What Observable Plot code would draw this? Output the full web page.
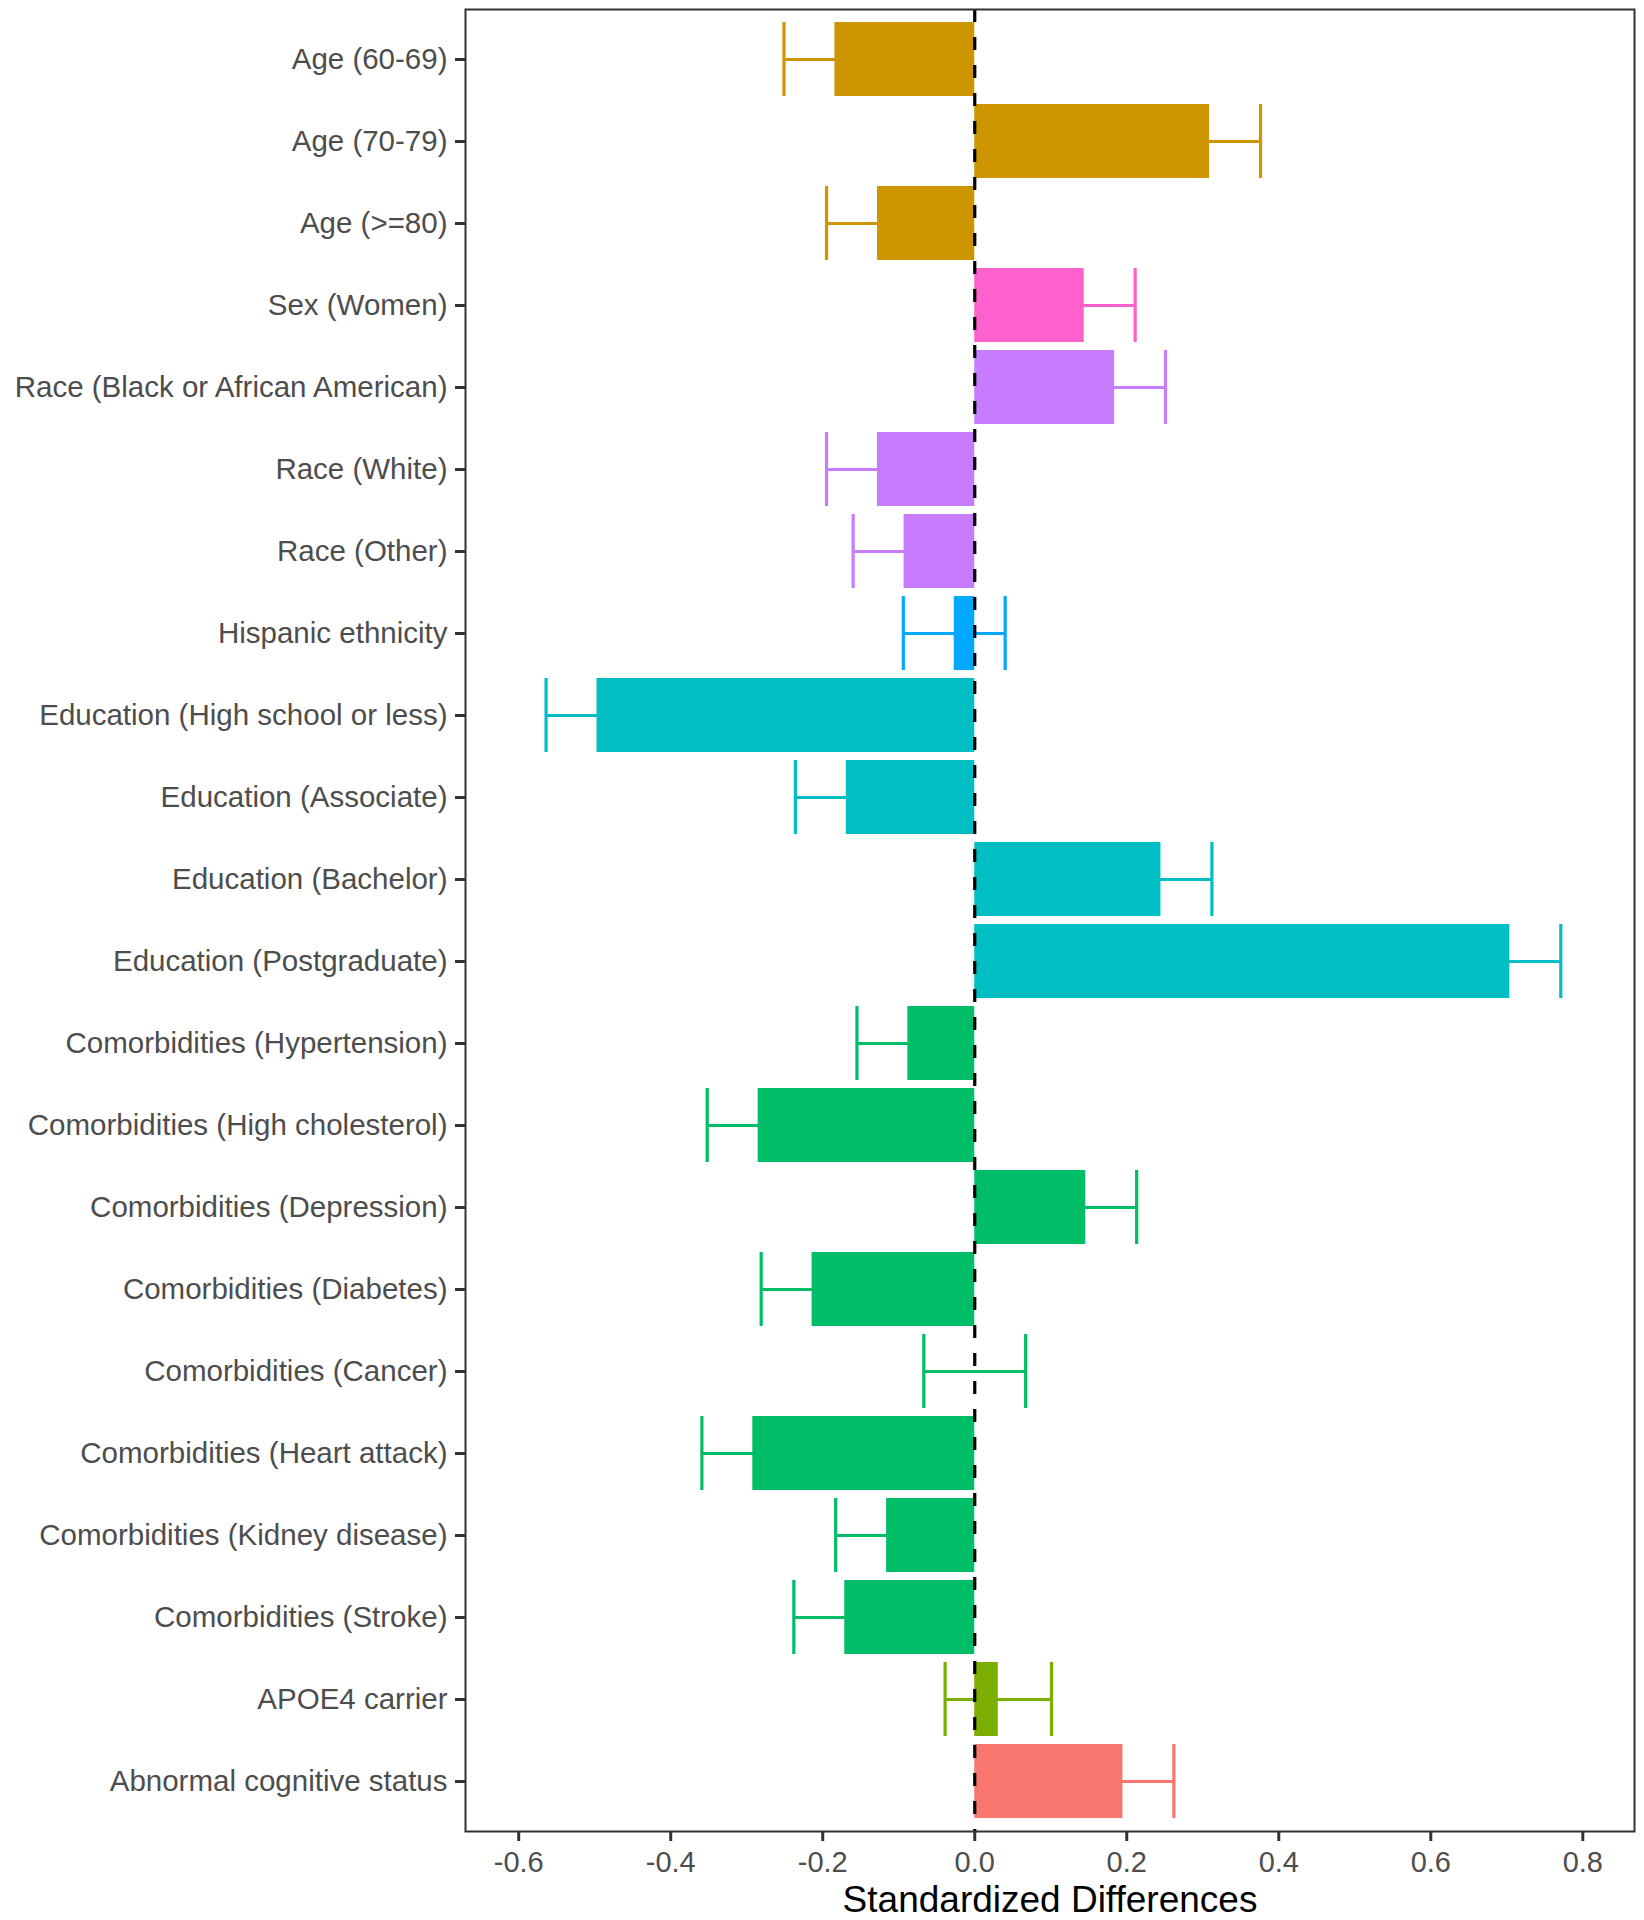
<!DOCTYPE html>
<html>
<head>
<meta charset="utf-8">
<script src="https://cdn.jsdelivr.net/npm/d3@7"></script>
<script src="https://cdn.jsdelivr.net/npm/@observablehq/plot@0.6"></script>
<style>
  html, body { margin: 0; padding: 0; background: #fff; }
  #chart svg { display: block; }
</style>
</head>
<body>
<div id="chart"></div>
<script>
const labels = [
  "Age (60-69)", "Age (70-79)", "Age (>=80)", "Sex (Women)",
  "Race (Black or African American)", "Race (White)", "Race (Other)",
  "Hispanic ethnicity", "Education (High school or less)", "Education (Associate)",
  "Education (Bachelor)", "Education (Postgraduate)", "Comorbidities (Hypertension)",
  "Comorbidities (High cholesterol)", "Comorbidities (Depression)", "Comorbidities (Diabetes)",
  "Comorbidities (Cancer)", "Comorbidities (Heart attack)", "Comorbidities (Kidney disease)",
  "Comorbidities (Stroke)", "APOE4 carrier", "Abnormal cognitive status"
];
const groups = [
  "Age", "Age", "Age", "Sex",
  "Race", "Race", "Race",
  "Hispanic", "Education", "Education",
  "Education", "Education", "Comorbidities",
  "Comorbidities", "Comorbidities", "Comorbidities",
  "Comorbidities", "Comorbidities", "Comorbidities",
  "Comorbidities", "APOE4", "Abnormal"
];
const values = [
  -0.184, 0.309, -0.128, 0.144,
  0.184, -0.128, -0.093,
  -0.027, -0.497, -0.169,
  0.245, 0.704, -0.088,
  -0.285, 0.146, -0.214,
  0.000, -0.292, -0.116,
  -0.171, 0.031, 0.195
];
const lower = [
  -0.251, 0.242, -0.195, 0.077,
  0.117, -0.195, -0.160,
  -0.094, -0.564, -0.236,
  0.178, 0.637, -0.155,
  -0.352, 0.079, -0.281,
  -0.067, -0.359, -0.183,
  -0.238, -0.039, 0.128
];
const upper = [
  -0.117, 0.376, -0.061, 0.211,
  0.251, -0.061, -0.026,
  0.040, -0.430, -0.102,
  0.312, 0.771, -0.021,
  -0.218, 0.213, -0.147,
  0.067, -0.225, -0.049,
  -0.104, 0.101, 0.262
];
const groupDomain = ["Abnormal", "Age", "APOE4", "Comorbidities", "Education", "Hispanic", "Race", "Sex"];
const groupColors = ["#F8766D", "#CD9600", "#7CAE00", "#00BE67", "#00BFC4", "#00A9FF", "#C77CFF", "#FF61CC"];
const xTicks = [-0.6, -0.4, -0.2, 0.0, 0.2, 0.4, 0.6, 0.8];
const xLabel = "Standardized Differences";

const data = labels.map((label, i) => ({
  label, group: groups[i], value: values[i], lo: lower[i], hi: upper[i]
}));

const font = "'Liberation Sans', Arial, sans-serif";

const chart = Plot.plot({
  width: 1644,
  height: 1920,
  marginLeft: 465,
  marginRight: 10,
  marginTop: 9,
  marginBottom: 89,
  style: { fontFamily: font, background: "#fff" },
  x: { domain: [-0.670, 0.868] },
  y: { type: "band", domain: labels, paddingInner: 0.1, paddingOuter: 0.15, align: 0.5 },
  color: { type: "ordinal", domain: groupDomain, range: groupColors },
  marks: [
    Plot.ruleY(data, { y: "label", x1: "lo", x2: "hi", stroke: "group", strokeWidth: 3.2 }),
    Plot.tickX(data, { x: "lo", y: "label", stroke: "group", strokeWidth: 3.2 }),
    Plot.tickX(data, { x: "hi", y: "label", stroke: "group", strokeWidth: 3.2 }),
    Plot.barX(data, { x: "value", y: "label", fill: "group" }),
    Plot.ruleX([0], { stroke: "black", strokeWidth: 3.2, strokeDasharray: "13,15" }),
    Plot.frame({ stroke: "#333333", strokeWidth: 2 }),
    Plot.axisY({
      tickSize: 10, tickPadding: 8, stroke: "#333333", strokeWidth: 3,
      fill: "#4D4D4D", fontSize: 29.5, label: null
    }),
    Plot.axisX({
      ticks: xTicks, tickFormat: d => d.toFixed(1),
      tickSize: 10, tickPadding: 10, stroke: "#333333", strokeWidth: 3,
      fill: "#4D4D4D", fontSize: 29, label: null
    }),
    Plot.axisX({
      ticks: [], tickSize: 0, label: xLabel, labelAnchor: "center", labelArrow: "none",
      labelOffset: 80, fill: "black", fontSize: 37
    })
  ]
});
document.getElementById("chart").appendChild(chart);
</script>
</body>
</html>
